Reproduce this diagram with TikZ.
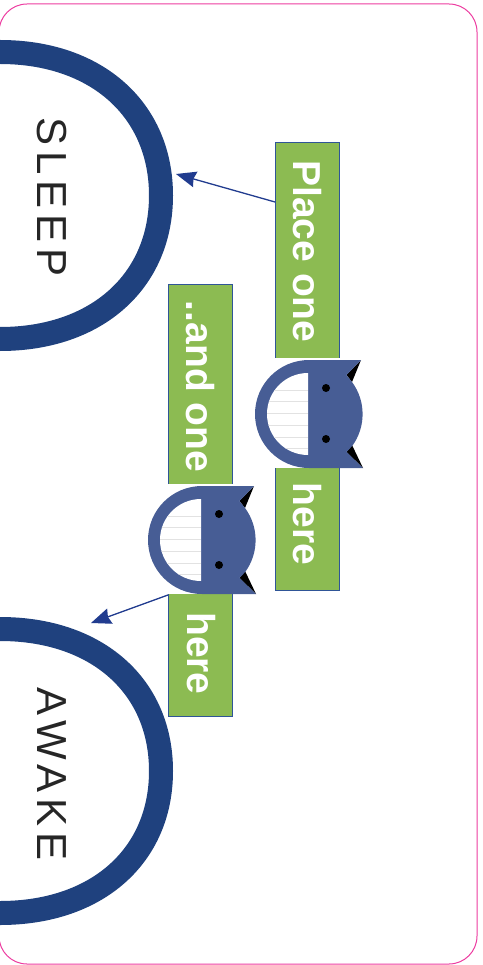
\documentclass[tikz,border=0pt]{standalone}
\usepackage{fontspec}
\setmainfont{Liberation Sans}
\usetikzlibrary{%
    arrows.meta%
}
\definecolor{ringblue}{RGB}{31,65,126}
\definecolor{catblue}{RGB}{71,93,149}
\definecolor{boxgreen}{RGB}{140,187,82}
\definecolor{boxline}{RGB}{47,85,151}
\definecolor{arrowblue}{RGB}{33,60,143}
\definecolor{framepink}{RGB}{236,60,160}
\definecolor{stripegray}{RGB}{226,226,226}

\begin{document}
\begin{tikzpicture}[x=1pt,y=-1pt,
    ring/.style={draw=ringblue,line width=24pt},
    ringlabel/.style={rotate=-90,text=black!85,
        font={\fontsize{42}{44}\selectfont\addfontfeature{LetterSpace=14}}},
    greenbox/.style={draw=boxline,fill=boxgreen,line width=1pt},
    boxlabel/.style={rotate=-90,text=white,
        font={\fontsize{39}{41}\selectfont\bfseries}},
    pointer/.style={draw=arrowblue,line width=1.3pt,
        -{Stealth[length=20pt,width=16pt,inset=2pt]}},
    catface/.pic={
        \fill[white] (-54,-56) rectangle (54,54);
        \fill[black] (52,-54) -- (37.5,-39) -- (43,-32) -- cycle;
        \fill[black] (54,54) -- (37.5,38) -- (43,31) -- cycle;
        \fill[catblue] (0,-54) -- (52,-54) -- (37.5,-39) -- (43,-32)
            arc (-36.5:36:54) -- (37.5,38) -- (54,54) -- (0,54)
            arc (90:270:54) -- cycle;
        \fill[white] (-1,-41) arc (270:90:41) -- cycle;
        \begin{scope}
            \clip (-1,-41) arc (270:90:41) -- cycle;
            \foreach \stripey in {-24,-12.5,-1,11,23,34}
                \draw[stripegray,line width=0.8pt] (-42,\stripey) -- (-1,\stripey);
        \end{scope}
        \fill[black] (17,-26) circle (4);
        \fill[black] (17,25) circle (4);
    }]
\useasboundingbox (0,0) rectangle (482,965);

\draw[framepink,line width=1pt,rounded corners=28pt] (-1,4) rectangle (477,964);

\draw[ring] (0,52) .. controls (97,52) and (161,110) .. (161,195.5)
    .. controls (161,281) and (97,339) .. (0,339);
\draw[ring] (0,629) .. controls (97,629) and (161,686) .. (161,771)
    .. controls (161,856) and (97,913) .. (0,913);
\node[ringlabel] (sleeplabel) at (52,197) {SLEEP};
\node[ringlabel] (awakelabel) at (52,774) {AWAKE};

\node[greenbox,minimum width=64pt,minimum height=447pt,inner sep=0pt] (placebox) at (307.5,366.5) {};
\node[greenbox,minimum width=64pt,minimum height=432pt,inner sep=0pt] (andbox) at (200.5,500) {};

\node[boxlabel] (placeone) at (307.5,251.5) {Place one};
\node[boxlabel] (placehere) at (307.5,524) {here};
\node[boxlabel] (andone) at (200,386.5) {..and one};
\node[boxlabel] (andhere) at (201,653.5) {here};

\pic at (309,414) {catface};
\pic at (202,540) {catface};

\coordinate (sleepmark) at (176,174);
\coordinate (awakemark) at (91,623);
\draw[pointer] (placebox.west |- 0,202) -- (sleepmark);
\draw[pointer] (andbox.west |- 0,595) -- (awakemark);
\end{tikzpicture}
\end{document}
